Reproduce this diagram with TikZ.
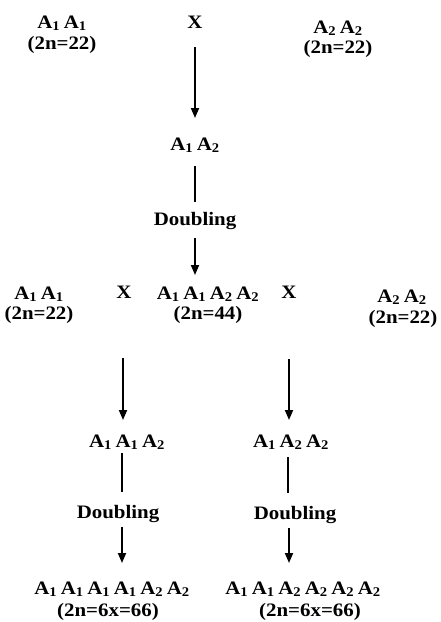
\documentclass[tikz,border=0pt]{standalone}
\usepackage{fontspec}
\setmainfont{Liberation Serif}[FakeStretch=1.1]
\usetikzlibrary{arrows.meta}
\tikzset{
  lbl/.style={font=\fontsize{19}{16}\selectfont\bfseries, inner sep=0pt, anchor=base},
  arr/.style={line width=1.8pt, -{Triangle[length=10pt,width=8pt]}},
  ln/.style={line width=1.8pt}
}
\newcommand{\Aa}[1]{A\textsubscript{#1}}
\newcommand{\gsp}{\hspace{3.6pt}}
\begin{document}
\begin{tikzpicture}[x=1pt,y=-1pt]
\useasboundingbox (0,0) rectangle (440,622);
% row 1
\node[lbl] (p1) at (62,28) {\Aa1\gsp\Aa1};
\node[lbl] (p1n) at (62,49) {(2n=22)};
\node[lbl] (x0) at (195,28) {X};
\node[lbl] (p2) at (338,33) {\Aa2\gsp\Aa2};
\node[lbl] (p2n) at (338,53) {(2n=22)};
% hybrid
\coordinate (a0s) at (195,47);
\coordinate (a0e) at (195,118);
\node[lbl] (h) at (195,150) {\Aa1\gsp\Aa2};
\coordinate (d0t) at (195,166);
\coordinate (d0b) at (195,202);
\node[lbl] (d0) at (195,225) {Doubling};
\coordinate (a1s) at (195,238);
\coordinate (a1e) at (195,275);
% row 3
\node[lbl] (q1) at (39,299) {\Aa1\gsp\Aa1};
\node[lbl] (q1n) at (39,319) {(2n=22)};
\node[lbl] (xl) at (124,298) {X};
\node[lbl] (t) at (208,299) {\Aa1\gsp\Aa1\gsp\Aa2\gsp\Aa2};
\node[lbl] (tn) at (208,319) {(2n=44)};
\node[lbl] (xr) at (289,298) {X};
\node[lbl] (q2) at (402,302) {\Aa2\gsp\Aa2};
\node[lbl] (q2n) at (403,323) {(2n=22)};
% row 4
\coordinate (la) at (123,358);
\coordinate (lae) at (123,420);
\coordinate (ra) at (289,359);
\coordinate (rae) at (289,420);
\node[lbl] (l3) at (127,447) {\Aa1\gsp\Aa1\gsp\Aa2};
\node[lbl] (r3) at (291,447) {\Aa1\gsp\Aa2\gsp\Aa2};
\coordinate (llt) at (122,453);
\coordinate (llb) at (122,492);
\coordinate (rlt) at (288,457);
\coordinate (rlb) at (288,493);
\node[lbl] (ld) at (118,518) {Doubling};
\node[lbl] (rd) at (295,519) {Doubling};
\coordinate (las) at (122,527);
\coordinate (lase) at (122,563);
\coordinate (ras) at (289,528);
\coordinate (rase) at (289,563);
\node[lbl] (l6) at (112,594) {\Aa1\gsp\Aa1\gsp\Aa1\gsp\Aa1\gsp\Aa2\gsp\Aa2};
\node[lbl] (l6n) at (108,616) {(2n=6x=66)};
\node[lbl] (r6) at (303,594) {\Aa1\gsp\Aa1\gsp\Aa2\gsp\Aa2\gsp\Aa2\gsp\Aa2};
\node[lbl] (r6n) at (310,616) {(2n=6x=66)};
% connectors
\draw[arr] (a0s) -- (a0e);
\draw[ln] (d0t) -- (d0b);
\draw[arr] (a1s) -- (a1e);
\draw[arr] (la) -- (lae);
\draw[arr] (ra) -- (rae);
\draw[ln] (llt) -- (llb);
\draw[ln] (rlt) -- (rlb);
\draw[arr] (las) -- (lase);
\draw[arr] (ras) -- (rase);
\end{tikzpicture}
\end{document}
